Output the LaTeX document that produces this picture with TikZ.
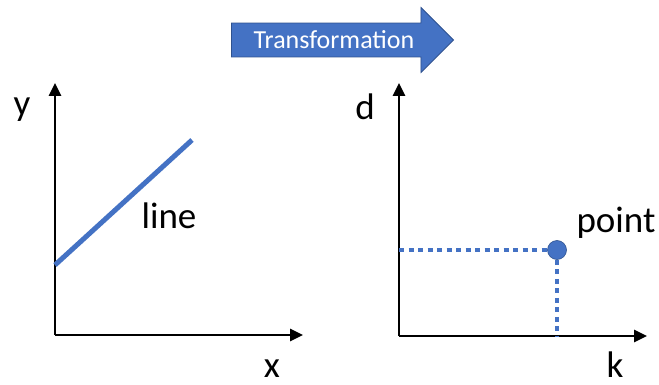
\documentclass[tikz,border=0pt]{standalone}
\usepackage{fontspec}
\setmainfont{Carlito}
\usepackage{tikz}
\usetikzlibrary{arrows.meta,positioning,shapes.arrows}
\definecolor{officeblue}{HTML}{4472C4}
\definecolor{edgeblue}{HTML}{2F528F}

\begin{document}
\begin{tikzpicture}[x=1pt,y=-1pt,
  every node/.style={inner sep=0pt},
  axlabel/.style={anchor=base,font=\fontsize{37}{44}\selectfont},
  axis/.style={line width=2.6pt,-{Triangle[length=13pt,width=12pt]}},
  trend/.style={officeblue,line width=5pt},
  guide/.style={officeblue,line width=4.5pt,dash pattern=on 5pt off 4.5pt},
  dot/.style={circle,fill=officeblue,draw=edgeblue,line width=0.6pt,minimum size=19pt},
  transarrow/.style={single arrow,fill=officeblue,draw=edgeblue,line width=0.8pt,
                     inner xsep=2pt,inner ysep=7.5pt,
                     minimum width=65pt,minimum height=222pt,
                     single arrow head extend=15.5pt,single arrow head indent=0pt,
                     text=white,font=\fontsize{26}{30}\selectfont}
]
\useasboundingbox (0,0) rectangle (659,385);
% --- transformation arrow ---
\node[transarrow] (trans) at (334,40) {Transformation};
% --- left plot: x/y ---
\coordinate (o1) at (55,335);
\coordinate (ytip1) at (55,83);
\coordinate (xtip1) at (303,335);
\draw[axis] (o1) -- (ytip1);
\draw[axis] (o1) -- (xtip1);
\coordinate (lnA) at (55,265);
\coordinate (lnB) at (192,140);
\draw[trend] (lnA) -- (lnB);
\node[axlabel] (ylab) at (22,116) {y};
\node[axlabel] (xlab) at (272,377) {x};
\node[axlabel] (linelab) at (169,229) {line};
% --- right plot: k/d ---
\coordinate (o2) at (399,336);
\coordinate (ytip2) at (399,83);
\coordinate (xtip2) at (647,336);
\draw[axis] (o2) -- (ytip2);
\draw[axis] (o2) -- (xtip2);
\node[dot] (pt) at (557,250) {};
\draw[guide] (o2 |- pt) -- (pt);
\draw[guide] (pt) -- (pt |- o2);
\node[axlabel] (dlab) at (365,120) {d};
\node[axlabel] (klab) at (615,377) {k};
\node[axlabel] (ptlab) at (616,232) {point};
\end{tikzpicture}
\end{document}
